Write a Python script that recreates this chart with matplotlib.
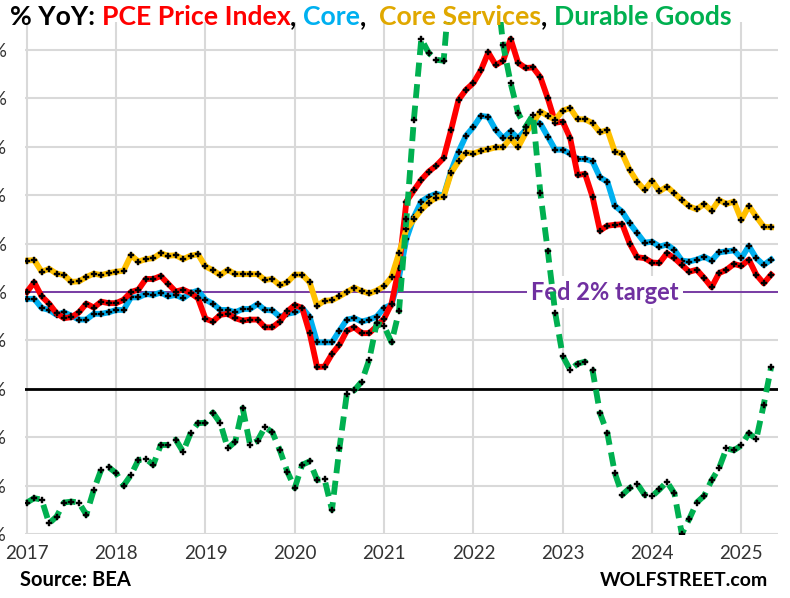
import numpy as np
import matplotlib
matplotlib.use("Agg")
import matplotlib.pyplot as plt

plt.rcParams['font.family'] = ['Lato', 'DejaVu Sans']

# monthly, Jan 2017 .. May 2025, % YoY
pce = [2.00, 2.20, 1.91, 1.76, 1.56, 1.46, 1.48, 1.58, 1.76, 1.68, 1.80, 1.77,
       1.77, 1.84, 2.00, 2.05, 2.27, 2.27, 2.33, 2.17, 2.01, 2.05, 1.98, 1.87,
       1.45, 1.39, 1.53, 1.55, 1.46, 1.41, 1.43, 1.43, 1.27, 1.27, 1.39, 1.60,
       1.73, 1.67, 1.15, 0.45, 0.46, 0.72, 0.91, 1.20, 1.27, 1.15, 1.15, 1.29,
       1.45, 1.76, 2.50, 3.87, 4.10, 4.32, 4.49, 4.61, 4.77, 5.35, 5.97, 6.18,
       6.32, 6.58, 6.95, 6.69, 6.78, 7.23, 6.74, 6.63, 6.64, 6.44, 6.00, 5.50,
       5.52, 5.18, 4.42, 4.44, 3.97, 3.27, 3.37, 3.39, 3.40, 3.00, 2.72, 2.70,
       2.61, 2.60, 2.80, 2.70, 2.56, 2.42, 2.46, 2.29, 2.10, 2.39, 2.46, 2.58,
       2.54, 2.67, 2.36, 2.18, 2.36]
core = [1.86, 1.86, 1.67, 1.63, 1.53, 1.58, 1.51, 1.43, 1.43, 1.55, 1.55, 1.58,
        1.63, 1.63, 1.89, 1.89, 1.96, 1.94, 1.99, 1.91, 1.94, 1.87, 1.98, 2.03,
        1.84, 1.76, 1.63, 1.63, 1.58, 1.65, 1.65, 1.75, 1.63, 1.62, 1.49, 1.55,
        1.58, 1.67, 1.49, 0.96, 0.96, 0.96, 1.20, 1.43, 1.46, 1.39, 1.43, 1.49,
        1.67, 1.74, 2.30, 3.10, 3.55, 3.87, 3.97, 4.03, 3.99, 4.50, 4.90, 5.23,
        5.41, 5.64, 5.62, 5.35, 5.18, 5.32, 5.18, 5.35, 5.56, 5.48, 5.21, 4.94,
        4.94, 4.86, 4.75, 4.75, 4.70, 4.37, 4.28, 3.78, 3.66, 3.42, 3.22, 3.02,
        3.04, 2.94, 2.98, 2.87, 2.65, 2.63, 2.67, 2.73, 2.65, 2.82, 2.84, 2.86,
        2.70, 2.95, 2.70, 2.56, 2.67]
core_services = [2.65, 2.66, 2.42, 2.48, 2.38, 2.35, 2.21, 2.22, 2.31, 2.38, 2.35, 2.39,
                 2.42, 2.44, 2.76, 2.63, 2.68, 2.70, 2.80, 2.75, 2.76, 2.68, 2.75, 2.78,
                 2.53, 2.45, 2.35, 2.46, 2.37, 2.37, 2.37, 2.37, 2.25, 2.27, 2.14, 2.20,
                 2.36, 2.36, 2.20, 1.72, 1.82, 1.83, 1.91, 2.00, 2.09, 2.02, 1.97, 2.03,
                 2.12, 2.31, 2.80, 3.30, 3.50, 3.70, 3.85, 3.95, 3.97, 4.46, 4.70, 4.88,
                 4.86, 4.92, 4.95, 4.99, 4.99, 5.18, 4.99, 5.28, 5.50, 5.73, 5.64, 5.56,
                 5.75, 5.80, 5.57, 5.57, 5.49, 5.30, 5.35, 4.90, 4.86, 4.52, 4.28, 4.11,
                 4.30, 4.08, 4.18, 4.04, 3.90, 3.77, 3.71, 3.82, 3.68, 3.90, 3.82, 3.87,
                 3.49, 3.78, 3.56, 3.35, 3.34]
durable = [-2.35, -2.26, -2.29, -2.78, -2.64, -2.35, -2.33, -2.35, -2.60, -2.09, -1.67, -1.62,
           -1.74, -2.00, -1.78, -1.47, -1.45, -1.57, -1.16, -1.16, -1.05, -1.30, -0.92, -0.71,
           -0.70, -0.49, -0.71, -1.23, -1.09, -0.40, -1.16, -1.07, -0.79, -0.90, -1.27, -1.71,
           -2.05, -1.57, -1.50, -1.88, -1.87, -2.50, -1.23, -0.10, -0.03, 0.15, 0.60, 1.35,
           1.30, 0.96, 1.60, 3.50, 5.56, 7.23, 6.94, 6.80, 6.78, 8.60, 9.50, 10.30,
           10.60, 10.40, 9.30, 8.50, 7.10, 6.32, 5.70, 5.41, 5.66, 4.04, 2.84, 1.56,
           0.68, 0.39, 0.52, 0.56, 0.39, -0.50, -0.92, -1.74, -2.19, -2.05, -1.96, -2.19,
           -2.22, -2.08, -1.92, -2.16, -3.00, -2.69, -2.35, -2.21, -1.89, -1.64, -1.23, -1.27,
           -1.17, -0.92, -1.04, -0.33, 0.45]

years = list(range(2017, 2026))
y_ticks = list(range(-3, 8))
t = 2017 + np.arange(len(pce)) / 12

fig = plt.figure(figsize=(7.9, 5.98), dpi=100)
ax = fig.add_axes([25 / 790, 1 - 534 / 598, 753 / 790, 512 / 598])
ax.set_xlim(2016.98, 2025.41)
ax.set_ylim(-3, 7.58)

ax.set_xticks(years)
ax.set_xticklabels([str(y) for y in years], fontsize=13.5, color='#333333')
ax.set_yticks(y_ticks)
ax.set_yticklabels([f"{v}%" for v in y_ticks], fontsize=13.5, color='#333333')
ax.tick_params(length=0)
ax.tick_params(axis='x', pad=8)
ax.tick_params(axis='y', pad=13)
ax.grid(True, color='#d9d9d9', lw=1.5)
ax.set_axisbelow(True)
for s in ax.spines.values():
    s.set_visible(False)

ax.axhline(0, color='black', lw=2, zorder=2)
ax.axhline(2, color='#7030A0', lw=1.3, zorder=2)
ax.text(2023.47, 2, "Fed 2% target", color='#7030A0', fontsize=17, fontweight='bold',
        ha='center', va='center', zorder=3,
        bbox=dict(facecolor='white', edgecolor='none', pad=3))

mk = dict(marker='P', markersize=4.5, markerfacecolor='black', markeredgecolor='black',
          markeredgewidth=0.3)
ax.plot(t, core, color='#00B0F0', lw=4.2, zorder=4, **mk)
ax.plot(t, pce, color='#FF0000', lw=4.2, zorder=5, **mk)
ax.plot(t, core_services, color='#FFC000', lw=4.2, zorder=6, **mk)
ax.plot(t, durable, color='#00B050', lw=4.2, zorder=7, dashes=(2.4, 1.3), **mk)

# title in colored pieces
pieces = [("% YoY: ", "black"), ("PCE Price Index", "#FF0000"), (", ", "black"),
          ("Core", "#00B0F0"), (",  ", "black"), ("Core Services", "#E0A800"),
          (", ", "black"), ("Durable Goods", "#00B050")]
renderer = fig.canvas.get_renderer()
x = 10 / 790
for s, c in pieces:
    txt = fig.text(x, 1 - 17 / 598, s, color=c, fontsize=19.2, fontweight='bold',
                   va='center', ha='left')
    bb = txt.get_window_extent(renderer)
    x += bb.width / fig.bbox.width

fig.text(20 / 790, 1 - 580 / 598, "Source: BEA", fontsize=14.5, fontweight='bold',
         va='center', ha='left')
fig.text(768 / 790, 1 - 580 / 598, "WOLFSTREET.com", fontsize=14, fontweight='bold',
         va='center', ha='right')

fig.savefig("out.png", dpi=100)
